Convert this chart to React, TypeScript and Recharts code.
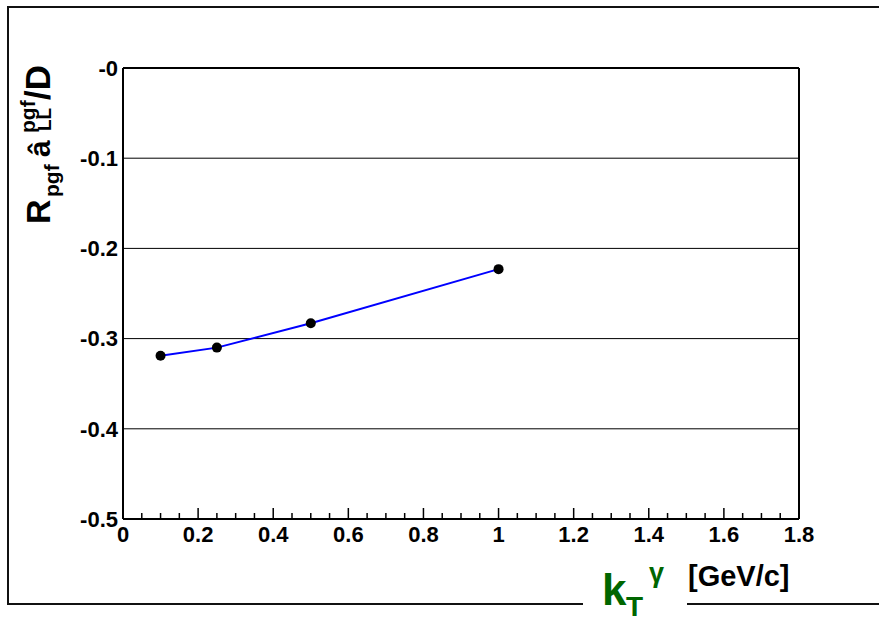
import { LineChart, Line, XAxis, YAxis, CartesianGrid, ReferenceLine } from 'recharts';

const ktValues = [0.1, 0.25, 0.5, 1.0];
const ratioValues = [-0.319, -0.31, -0.283, -0.223];

const yTicks = [0, -0.1, -0.2, -0.3, -0.4, -0.5];
const xMajorTicks = [0, 0.2, 0.4, 0.6, 0.8, 1, 1.2, 1.4, 1.6, 1.8];
// minor ticks every 0.05 between the labelled ones
const xTicks = Array.from({ length: 37 }, (_, i) => Math.round(i * 5) / 100);

const data = ktValues.map((kt, i) => ({ kt, ratio: ratioValues[i] }));

const font = '"Liberation Sans", Arial, Helvetica, sans-serif';

const XTick = (props: any) => {
  const { x, y, payload } = props;
  const v = payload.value;
  const major = xMajorTicks.some((m) => Math.abs(m - v) < 1e-6);
  const label = v === 0 ? '0' : v === 1 ? '1' : v.toFixed(1);
  return (
    <g>
      <line x1={x} x2={x} y1={y} y2={y - (major ? 11 : 6)} stroke="#000" strokeWidth={1.5} />
      {major && (
        <text x={x} y={y + 23} textAnchor="middle" fontFamily={font} fontWeight="bold" fontSize={22} fill="#000">
          {label}
        </text>
      )}
    </g>
  );
};

const YTitle = () => (
  <g transform="translate(50,224) rotate(-90)" fontFamily={font} fontWeight="bold" fill="#000">
    <text x={0} y={0} fontSize={34}>R</text>
    <text x={27} y={9} fontSize={21}>pgf</text>
    <text x={67} y={0} fontSize={30}>â</text>
    <text x={91} y={-15} fontSize={21}>pgf</text>
    <text x={93} y={1} fontSize={19}>LL</text>
    <text x={124} y={0} fontSize={35}>/D</text>
  </g>
);

const XTitle = () => (
  <g fontFamily={font} fontWeight="bold">
    <rect x={583} y={594} width={104} height={24} fill="#fff" />
    <text x={602} y={605} fontSize={44} fill="#006600">k</text>
    <text x={626} y={616} fontSize={28} fill="#006600">T</text>
    <text x={649} y={582} fontSize={27} fill="#006600">γ</text>
    <text x={688} y={586} fontSize={29} fill="#000">[GeV/c]</text>
  </g>
);

export default function App() {
  return (
    <div style={{ position: 'absolute', left: 0, top: 0, width: 879, height: 617, overflow: 'hidden', background: '#fff' }}>
      <div
        style={{
          position: 'absolute',
          left: 7,
          top: 6,
          width: 900,
          height: 595,
          borderTop: '2px solid #111',
          borderLeft: '2px solid #111',
          borderBottom: '2px solid #111',
        }}
      />
      <div style={{ position: 'absolute', left: 0, top: 0 }}>
        <LineChart width={879} height={617} data={data} margin={{ top: 68, right: 80, left: 10, bottom: 38 }}>
          <CartesianGrid horizontal vertical={false} stroke="#000" strokeWidth={1} strokeOpacity={1} />
          <XAxis
            dataKey="kt"
            type="number"
            domain={[0, 1.8]}
            ticks={xTicks}
            interval={0}
            tickSize={0}
            tickMargin={0}
            tickLine={false}
            tick={<XTick />}
            axisLine={{ stroke: '#000', strokeWidth: 2 }}
            height={60}
            label={{ content: () => <XTitle /> }}
          />
          <YAxis
            type="number"
            domain={[-0.5, 0]}
            ticks={yTicks}
            interval={0}
            width={113}
            tickSize={0}
            tickMargin={5}
            tickLine={false}
            tickFormatter={(v: number) => (v === 0 ? '-0' : v.toFixed(1))}
            tick={{ fill: '#000', fontSize: 22, fontWeight: 'bold', fontFamily: font }}
            axisLine={{ stroke: '#000', strokeWidth: 2 }}
            label={{ content: () => <YTitle /> }}
          />
          <ReferenceLine y={0} stroke="#000" strokeWidth={2} />
          <ReferenceLine x={1.8} stroke="#000" strokeWidth={2} />
          <Line
            dataKey="ratio"
            stroke="#0000ff"
            strokeWidth={2}
            dot={{ r: 5, fill: '#000', stroke: '#000', strokeWidth: 0 }}
            isAnimationActive={false}
          />
        </LineChart>
      </div>
    </div>
  );
}
